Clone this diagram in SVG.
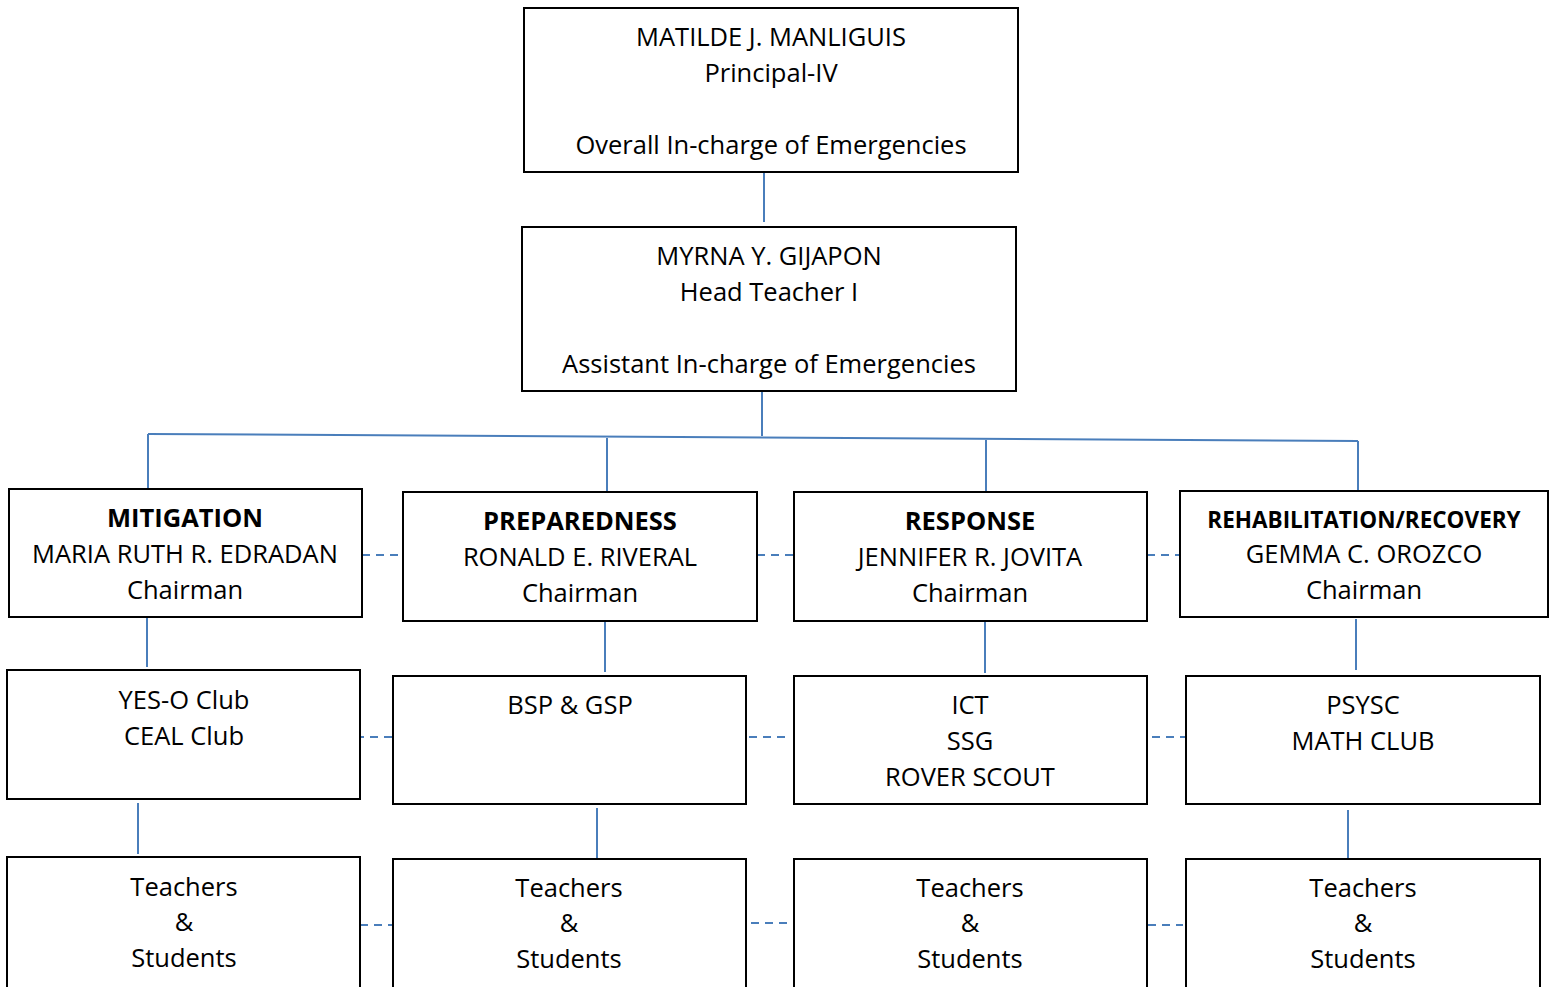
<svg xmlns="http://www.w3.org/2000/svg" width="1554" height="987" viewBox="0 0 1554 987">
<style>
.box{fill:#fff;stroke:#000;stroke-width:2}
.t{font-family:"Open Sans","Liberation Sans",sans-serif;font-size:25.5px;fill:#000;text-anchor:middle}
.b{font-weight:bold}
.ln{stroke:#4a7ebb;stroke-width:2;fill:none}
.dl{stroke:#4a7ebb;stroke-width:2;fill:none;stroke-dasharray:8 6}
</style>
<rect width="1554" height="987" fill="#fff"/>
<g id="connectors">
<line class="ln" x1="764" y1="172" x2="764" y2="222"/>
<line class="ln" x1="762" y1="391" x2="762" y2="436"/>
<line class="ln" x1="148" y1="434" x2="1358" y2="441"/>
<line class="ln" x1="148" y1="434" x2="148" y2="489"/>
<line class="ln" x1="607" y1="438" x2="607" y2="492"/>
<line class="ln" x1="986" y1="440" x2="986" y2="492"/>
<line class="ln" x1="1358" y1="441" x2="1358" y2="491"/>
<line class="dl" x1="362" y1="555" x2="403" y2="555"/>
<line class="dl" x1="757" y1="555" x2="794" y2="555"/>
<line class="dl" x1="1147" y1="555" x2="1180" y2="555"/>
<line class="ln" x1="147" y1="617" x2="147" y2="667"/>
<line class="ln" x1="605" y1="621" x2="605" y2="672"/>
<line class="ln" x1="985" y1="621" x2="985" y2="673"/>
<line class="ln" x1="1356" y1="619" x2="1356" y2="670"/>
<line class="dl" x1="356" y1="737" x2="393" y2="737"/>
<line class="dl" x1="749" y1="737" x2="787" y2="737"/>
<line class="dl" x1="1152" y1="737" x2="1186" y2="737"/>
<line class="ln" x1="138" y1="803" x2="138" y2="854"/>
<line class="ln" x1="597" y1="808" x2="597" y2="859"/>
<line class="ln" x1="1348" y1="810" x2="1348" y2="860"/>
<line class="dl" x1="360" y1="925" x2="395" y2="925"/>
<line class="dl" x1="751" y1="923" x2="788" y2="923"/>
<line class="dl" x1="1148" y1="925" x2="1183" y2="925"/>
</g>
<g id="principal">
<rect class="box" x="524" y="8" width="494" height="164"/>
<text class="t" x="771" y="46">MATILDE J. MANLIGUIS</text>
<text class="t" x="771" y="82">Principal-IV</text>
<text class="t" x="771" y="154">Overall In-charge of Emergencies</text>
</g>
<g id="headteacher">
<rect class="box" x="522" y="227" width="494" height="164"/>
<text class="t" x="769" y="265">MYRNA Y. GIJAPON</text>
<text class="t" x="769" y="301">Head Teacher I</text>
<text class="t" x="769" y="373">Assistant In-charge of Emergencies</text>
</g>
<g id="mitigation">
<rect class="box" x="9" y="489" width="353" height="128"/>
<text class="t b" x="185" y="527">MITIGATION</text>
<text class="t" x="185" y="563">MARIA RUTH R. EDRADAN</text>
<text class="t" x="185" y="599">Chairman</text>
</g>
<g id="preparedness">
<rect class="box" x="403" y="492" width="354" height="129"/>
<text class="t b" x="580" y="530">PREPAREDNESS</text>
<text class="t" x="580" y="566">RONALD E. RIVERAL</text>
<text class="t" x="580" y="602">Chairman</text>
</g>
<g id="response">
<rect class="box" x="794" y="492" width="353" height="129"/>
<text class="t b" x="970" y="530">RESPONSE</text>
<text class="t" x="970" y="566">JENNIFER R. JOVITA</text>
<text class="t" x="970" y="602">Chairman</text>
</g>
<g id="rehabilitation">
<rect class="box" x="1180" y="491" width="368" height="126"/>
<text class="t b" x="1364" y="528" style="font-size:22.5px">REHABILITATION/RECOVERY</text>
<text class="t" x="1364" y="563">GEMMA C. OROZCO</text>
<text class="t" x="1364" y="599">Chairman</text>
</g>
<g id="yeso">
<rect class="box" x="7" y="670" width="353" height="129"/>
<text class="t" x="184" y="709">YES-O Club</text>
<text class="t" x="184" y="745">CEAL Club</text>
</g>
<g id="bsp">
<rect class="box" x="393" y="676" width="353" height="128"/>
<text class="t" x="570" y="714">BSP &amp; GSP</text>
</g>
<g id="ict">
<rect class="box" x="794" y="676" width="353" height="128"/>
<text class="t" x="970" y="714">ICT</text>
<text class="t" x="970" y="750">SSG</text>
<text class="t" x="970" y="786">ROVER SCOUT</text>
</g>
<g id="psysc">
<rect class="box" x="1186" y="676" width="354" height="128"/>
<text class="t" x="1363" y="714">PSYSC</text>
<text class="t" x="1363" y="750">MATH CLUB</text>
</g>
<g id="ts1">
<rect class="box" x="7" y="857" width="353" height="140"/>
<text class="t" x="184" y="896">Teachers</text>
<text class="t" x="184" y="931">&amp;</text>
<text class="t" x="184" y="967">Students</text>
</g>
<g id="ts2">
<rect class="box" x="393" y="859" width="353" height="140"/>
<text class="t" x="569" y="897">Teachers</text>
<text class="t" x="569" y="932">&amp;</text>
<text class="t" x="569" y="968">Students</text>
</g>
<g id="ts3">
<rect class="box" x="794" y="859" width="353" height="140"/>
<text class="t" x="970" y="897">Teachers</text>
<text class="t" x="970" y="932">&amp;</text>
<text class="t" x="970" y="968">Students</text>
</g>
<g id="ts4">
<rect class="box" x="1186" y="859" width="354" height="140"/>
<text class="t" x="1363" y="897">Teachers</text>
<text class="t" x="1363" y="932">&amp;</text>
<text class="t" x="1363" y="968">Students</text>
</g>
</svg>
